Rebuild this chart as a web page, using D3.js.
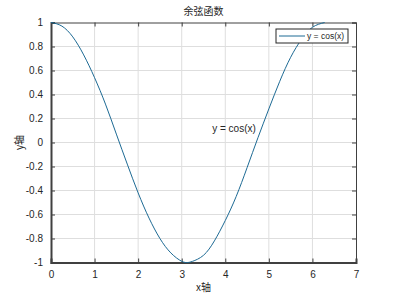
<!DOCTYPE html>
<html>
<head>
<meta charset="utf-8">
<script src="https://cdn.jsdelivr.net/npm/d3@7"></script>
<style>
  body { margin: 0; background: #fff; }
  text { font-family: "Liberation Sans", Arial, "Noto Sans CJK SC", sans-serif; fill: #262626; }
</style>
</head>
<body>
<div id="chart"></div>
<script>
// values
var xVals = [0, 0.25, 0.5, 0.75, 1, 1.25, 1.5, 1.75, 2, 2.25, 2.5, 2.75, 3, 3.14,
             3.25, 3.5, 3.75, 4, 4.25, 4.5, 4.75, 5, 5.25, 5.5, 5.75, 6, 6.28];
var yVals = [1, 0.97, 0.88, 0.73, 0.54, 0.32, 0.07, -0.18, -0.42, -0.63, -0.80, -0.92, -0.99, -1,
             -0.99, -0.94, -0.82, -0.65, -0.45, -0.21, 0.04, 0.28, 0.51, 0.71, 0.86, 0.96, 1];
var xTicks = [0, 1, 2, 3, 4, 5, 6, 7];
var yTicks = [-1, -0.8, -0.6, -0.4, -0.2, 0, 0.2, 0.4, 0.6, 0.8, 1];
var titleText = "余弦函数";
var xLabel = "x轴";
var yLabel = "y轴";
var legendText = "y = cos(x)";
var note = { x: 3.7, y: 0.12, text: "y = cos(x)" };

var W = 396, H = 296;
var margin = { left: 51, right: 40, top: 22.5, bottom: 33.5 };
var width = W - margin.left - margin.right;
var height = H - margin.top - margin.bottom;
var lineColor = "#1d6a94";

var svg = d3.select("#chart").append("svg")
    .attr("width", W).attr("height", H);
var g = svg.append("g")
    .attr("transform", "translate(" + margin.left + "," + margin.top + ")");

var x = d3.scaleLinear().domain([0, 7]).range([0, width]);
var y = d3.scaleLinear().domain([-1, 1]).range([height, 0]);

// grid
g.selectAll(".gx").data(xTicks.slice(1, -1)).enter().append("line")
    .attr("x1", d => x(d)).attr("x2", d => x(d))
    .attr("y1", 0).attr("y2", height)
    .attr("stroke", "#dedede").attr("stroke-width", 1);
g.selectAll(".gy").data(yTicks.slice(1, -1)).enter().append("line")
    .attr("y1", d => y(d)).attr("y2", d => y(d))
    .attr("x1", 0).attr("x2", width)
    .attr("stroke", "#dedede").attr("stroke-width", 1);

// axes (ticks inward)
var fmt = d => String(Math.round(d * 10) / 10);
var xAxis = g.append("g").attr("transform", "translate(0," + height + ")")
    .call(d3.axisBottom(x).tickValues(xTicks).tickSize(-4).tickPadding(8).tickFormat(fmt));
var yAxis = g.append("g")
    .call(d3.axisLeft(y).tickValues(yTicks).tickSize(-4).tickPadding(8).tickFormat(fmt));
var xTop = g.append("g")
    .call(d3.axisTop(x).tickValues(xTicks).tickSize(-4).tickFormat(""));
var yRight = g.append("g").attr("transform", "translate(" + width + ",0)")
    .call(d3.axisRight(y).tickValues(yTicks).tickSize(-4).tickFormat(""));

[xAxis, yAxis, xTop, yRight].forEach(function(a) {
    a.selectAll("path").attr("stroke", "#404040").attr("stroke-width", 1);
    a.selectAll("line").attr("stroke", "#404040");
    a.selectAll("text").style("font-size", "10px").attr("fill", "#333")
        .style("font-family", "'Liberation Sans', Arial, sans-serif");
});
xAxis.select("path").attr("stroke-width", 2);
yAxis.select("path").attr("stroke-width", 2);

// curve
var pts = xVals.map((d, i) => [d, yVals[i]]);
g.append("path").datum(pts)
    .attr("d", d3.line().curve(d3.curveNatural).x(d => x(d[0])).y(d => y(d[1])))
    .attr("fill", "none").attr("stroke", lineColor).attr("stroke-width", 1);

// title and labels
svg.append("text").attr("x", margin.left + width / 2).attr("y", 15)
    .attr("text-anchor", "middle").style("font-size", "10px")
    .style("font-family", "'Noto Sans CJK SC', sans-serif").text(titleText);
svg.append("text").attr("x", margin.left + width / 2).attr("y", 291)
    .attr("text-anchor", "middle").style("font-size", "10px")
    .style("font-family", "'Noto Sans CJK SC', sans-serif").text(xLabel);
svg.append("text")
    .attr("transform", "translate(23," + (margin.top + height / 2) + ") rotate(-90)")
    .attr("text-anchor", "middle").style("font-size", "10px")
    .style("font-family", "'Noto Sans CJK SC', sans-serif").text(yLabel);

// annotation
g.append("text").attr("x", x(note.x)).attr("y", y(note.y)).attr("dy", "0.35em")
    .style("font-size", "10px").text(note.text);

// legend
var lg = svg.append("g").attr("transform", "translate(276,29)");
lg.append("rect").attr("width", 72).attr("height", 14)
    .attr("fill", "#fff").attr("stroke", "#262626").attr("stroke-width", 1);
lg.append("line").attr("x1", 3).attr("x2", 29).attr("y1", 7).attr("y2", 7)
    .attr("stroke", lineColor).attr("stroke-width", 1);
lg.append("text").attr("x", 31).attr("y", 7).attr("dy", "0.35em")
    .style("font-size", "8.5px").text(legendText);
</script>
</body>
</html>
